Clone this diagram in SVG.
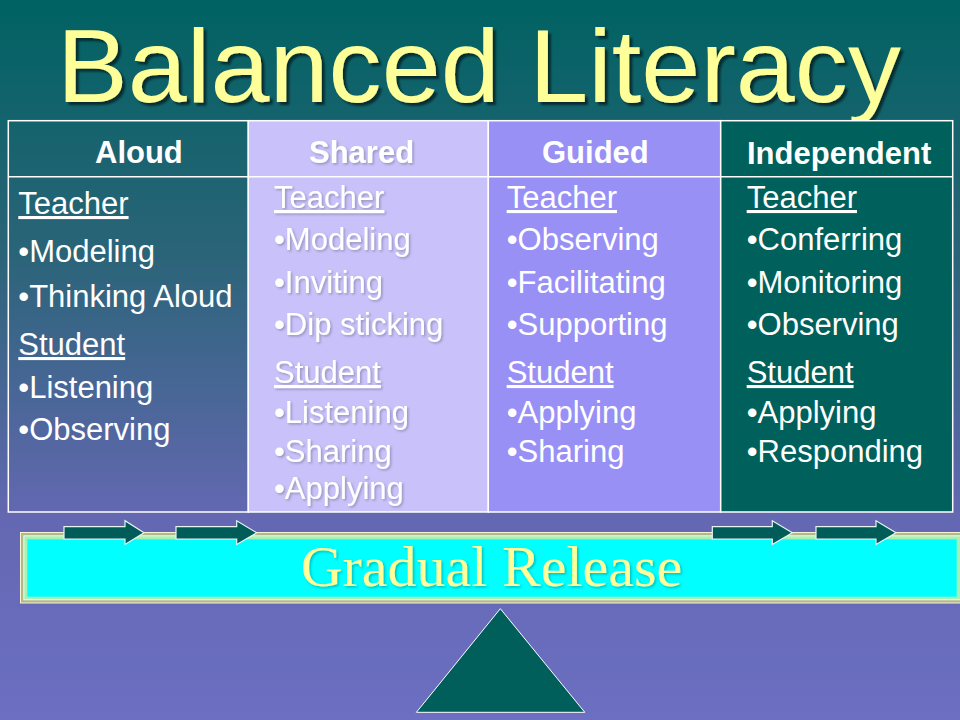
<svg xmlns="http://www.w3.org/2000/svg" width="960" height="720" viewBox="0 0 960 720">
<defs>
<linearGradient id="bg" x1="0" y1="0" x2="0" y2="1">
<stop offset="0" stop-color="#006262"/>
<stop offset="0.35" stop-color="#2a6478"/>
<stop offset="0.72" stop-color="#6468b2"/>
<stop offset="1" stop-color="#6c6fc2"/>
</linearGradient>
<filter id="shadow" x="-5%" y="-20%" width="110%" height="150%">
<feDropShadow dx="3" dy="3" stdDeviation="1.2" flood-color="#000000" flood-opacity="0.55"/>
</filter>
<filter id="soft" x="-5%" y="-20%" width="110%" height="150%">
<feDropShadow dx="1.5" dy="1.5" stdDeviation="1" flood-color="#000000" flood-opacity="0.25"/>
</filter>
</defs>
<style>
.hd{font-family:"Liberation Sans",Arial,sans-serif;font-weight:bold;font-size:31px;fill:#ffffff}
.tx{font-family:"Liberation Sans",Arial,sans-serif;font-size:31px;fill:#ffffff}
.ul{text-decoration:underline}
.cell{stroke:#ffffff;stroke-width:1.5}
.arrow{fill:#005c58;stroke:#e8f4f0;stroke-width:1.2;stroke-linejoin:miter}
</style>
<rect x="0" y="0" width="960" height="720" fill="url(#bg)"/>

<g id="title">
<text x="57" y="102" font-family="'Liberation Sans',Arial,sans-serif" font-size="104" fill="#ffff99" textLength="844" lengthAdjust="spacingAndGlyphs" filter="url(#shadow)">Balanced Literacy</text>
</g>

<g id="col-aloud">
<rect class="cell" x="8.3" y="120.7" width="240" height="391.3" fill="none"/>
<line class="cell" x1="8.3" y1="176.7" x2="248.3" y2="176.7"/>
<text class="hd" x="95" y="163">Aloud</text>
<text class="tx ul" x="18.3" y="214">Teacher</text>
<text class="tx" x="18.3" y="262">•Modeling</text>
<text class="tx" x="18.3" y="307">•Thinking Aloud</text>
<text class="tx ul" x="18.3" y="355">Student</text>
<text class="tx" x="18.3" y="398">•Listening</text>
<text class="tx" x="18.3" y="440">•Observing</text>
</g>

<g id="col-shared">
<rect class="cell" x="248.3" y="120.7" width="240" height="391.3" fill="#c9c2fa"/>
<line class="cell" x1="248.3" y1="176.7" x2="488.3" y2="176.7"/>
<g filter="url(#soft)">
<text class="hd" x="309" y="163">Shared</text>
<text class="tx ul" x="274" y="208">Teacher</text>
<text class="tx" x="274" y="250">•Modeling</text>
<text class="tx" x="274" y="293">•Inviting</text>
<text class="tx" x="274" y="335">•Dip sticking</text>
<text class="tx ul" x="274" y="383">Student</text>
<text class="tx" x="274" y="423">•Listening</text>
<text class="tx" x="274" y="462">•Sharing</text>
<text class="tx" x="274" y="499">•Applying</text>
</g>
</g>

<g id="col-guided">
<rect class="cell" x="488.3" y="120.7" width="232.4" height="391.3" fill="#9990f6"/>
<line class="cell" x1="488.3" y1="176.7" x2="720.7" y2="176.7"/>
<text class="hd" x="542" y="163">Guided</text>
<text class="tx ul" x="506.7" y="208">Teacher</text>
<text class="tx" x="506.7" y="250">•Observing</text>
<text class="tx" x="506.7" y="293">•Facilitating</text>
<text class="tx" x="506.7" y="335">•Supporting</text>
<text class="tx ul" x="506.7" y="383">Student</text>
<text class="tx" x="506.7" y="423">•Applying</text>
<text class="tx" x="506.7" y="462">•Sharing</text>
</g>

<g id="col-independent">
<rect class="cell" x="720.7" y="120.7" width="232" height="391.3" fill="#00605b"/>
<line class="cell" x1="720.7" y1="176.7" x2="952.7" y2="176.7"/>
<text class="hd" x="747" y="164">Independent</text>
<text class="tx ul" x="746.7" y="208">Teacher</text>
<text class="tx" x="746.7" y="250">•Conferring</text>
<text class="tx" x="746.7" y="293">•Monitoring</text>
<text class="tx" x="746.7" y="335">•Observing</text>
<text class="tx ul" x="746.7" y="383">Student</text>
<text class="tx" x="746.7" y="423">•Applying</text>
<text class="tx" x="746.7" y="462">•Responding</text>
</g>

<g id="banner">
<rect x="20" y="532" width="950" height="71.5" fill="#f4f4d0"/>
<rect x="21" y="533" width="948" height="69.5" fill="#b5b58e"/>
<rect x="23.3" y="535.3" width="944" height="65" fill="#fafae0"/>
<rect x="24.3" y="536.3" width="942" height="63" fill="#a6f2b6"/>
<rect x="27.3" y="539.3" width="929.4" height="57.4" fill="#00ffff"/>
<text x="491.5" y="586" text-anchor="middle" font-family="'Liberation Serif','Times New Roman',serif" font-size="58" fill="#ffff99" filter="url(#soft)">Gradual Release</text>
</g>

<g id="fulcrum">
<polygon points="500.3,608.7 416.4,712.3 584.8,712.3" fill="#005f5a" stroke="#ffffff" stroke-width="1"/>
</g>

<g id="connectors">
<polygon class="arrow" points="64,526.7 125,526.7 125,520.7 144,532.8 125,544.5 125,539 64,539"/>
<polygon class="arrow" points="176,526.7 236.7,526.7 236.7,520.7 256.7,532.8 236.7,544.5 236.7,539 176,539"/>
<polygon class="arrow" points="712.3,526.7 772.3,526.7 772.3,520.7 792.3,532.8 772.3,544.5 772.3,539 712.3,539"/>
<polygon class="arrow" points="816,526.7 876,526.7 876,520.7 896,532.8 876,544.5 876,539 816,539"/>
</g>
</svg>
